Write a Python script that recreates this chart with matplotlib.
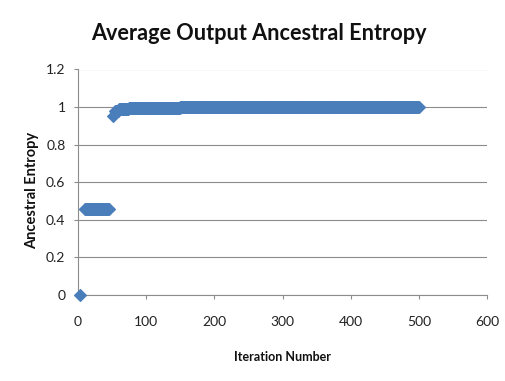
import numpy as np
import matplotlib
matplotlib.use("Agg")
import matplotlib.pyplot as plt

# Data: plateaus of (start iteration, end iteration, value)
segment_start = [3, 10, 51, 55, 60, 75, 100, 150]
segment_end = [3, 45, 51, 59, 74, 99, 149, 500]
segment_value = [0.0, 0.46, 0.95, 0.98, 0.988, 0.993, 0.997, 1.0]

x_ticks = [0, 100, 200, 300, 400, 500, 600]
y_ticks = [0, 0.2, 0.4, 0.6, 0.8, 1.0, 1.2]
y_tick_labels = ["0", "0.2", "0.4", "0.6", "0.8", "1", "1.2"]

title = "Average Output Ancestral Entropy"
x_label = "Iteration Number"
y_label = "Ancestral Entropy"

iterations = []
entropy = []
for s, e, v in zip(segment_start, segment_end, segment_value):
    for it in range(s, e + 1):
        iterations.append(it)
        entropy.append(v)

plt.rcParams['font.family'] = ['Lato', 'DejaVu Sans']

fig = plt.figure(figsize=(5.06, 3.81), dpi=100)
ax = fig.add_axes([78 / 506, 1 - 295 / 381, (487 - 78) / 506, (295 - 69.5) / 381])

ax.plot(iterations, entropy, linestyle='none', marker='D', markersize=6.6,
        color='#4A7EBB', markeredgecolor='#4A7EBB', markeredgewidth=0.8,
        clip_on=False, zorder=3)

ax.set_xlim(0, 600)
ax.set_ylim(0, 1.2)
ax.set_xticks(x_ticks)
ax.set_yticks(y_ticks)
ax.set_yticklabels(y_tick_labels)

ax.grid(axis='y', color='#8c8c8c', linewidth=0.8)
ax.set_axisbelow(True)
for side in ['top', 'right']:
    ax.spines[side].set_visible(False)
for side in ['left', 'bottom']:
    ax.spines[side].set_color('#8c8c8c')
    ax.spines[side].set_linewidth(0.8)

ax.tick_params(axis='x', direction='out', length=3, width=0.8, color='#8c8c8c',
               pad=12, labelsize=10, labelcolor='#222222')
ax.tick_params(axis='y', direction='out', length=3, width=0.8, color='#8c8c8c',
               pad=6, labelsize=10, labelcolor='#222222')

fig.text(259 / 506, 1 - 33 / 381, title, ha='center', va='center',
         fontsize=15.6, fontweight='bold', color='#111111')
fig.text(282.5 / 506, 1 - 357 / 381, x_label, ha='center', va='center',
         fontsize=9, fontweight='bold', color='#111111')
fig.text(32 / 506, 1 - 190 / 381, y_label, ha='center', va='center',
         rotation=90, fontsize=10.5, fontweight='bold', color='#111111')

fig.savefig('out.png', dpi=100, facecolor='white')
